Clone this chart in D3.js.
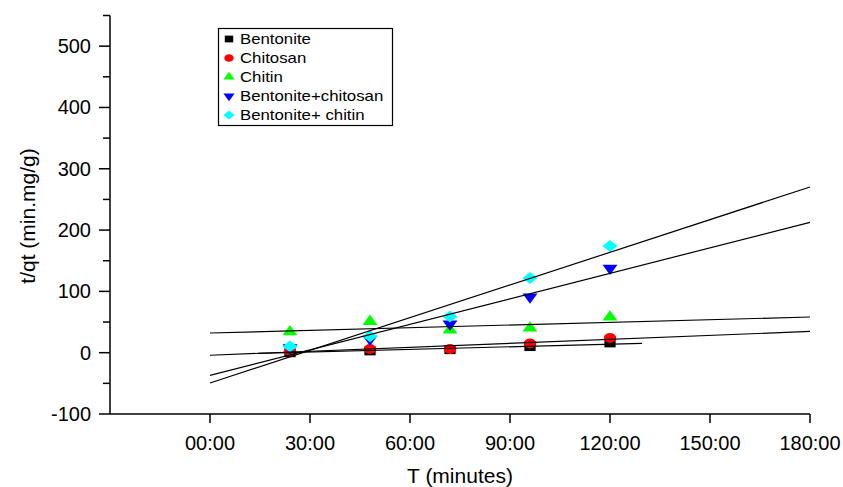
<!DOCTYPE html>
<html lang="en">
  <head>
    <meta charset="utf-8">
    <title>t/qt vs T</title>
    <style type="text/css">
      body { margin: 0; background: #ffffff; }
      .tick-label { font-family: "Liberation Sans", Arial, sans-serif; font-size: 20px; fill: #000; }
      .axis-title { font-family: "Liberation Sans", Arial, sans-serif; font-size: 21px; fill: #000; }
      .legend-text { font-family: "Liberation Sans", Arial, sans-serif; font-size: 14px; fill: #000; }
    </style>
    <script src="https://d3js.org/d3.v7.min.js"></script>
  </head>
  <body>
    <div id="my_dataviz"></div>

    <script>
    // time of each measurement (minutes)
    var times = [24, 48, 72, 96, 120];

    // series names
    var seriesNames = ["Bentonite", "Chitosan", "Chitin", "Bentonite+chitosan", "Bentonite+ chitin"];

    // t/qt values
    var bentonite = [0, 3, 5, 10, 16];
    var chitosan = [2, 6, 6, 15, 24];
    var chitin = [34, 51, 37, 40, 58];
    var bentChitosan = [8, 22, 47, 91, 138];
    var bentChitin = [10, 27, 59, 122, 174];

    // linear fit lines: start/end time and value at both ends
    var fitT0 = [14.4, 0, 0, 0, 0];
    var fitT1 = [129.6, 180, 180, 180, 180];
    var fitV0 = [-1, -4.2, 32.1, -37, -49.4];
    var fitV1 = [15.3, 34.7, 58.2, 212.6, 270.3];

    // axis ticks
    var xTicks = [0, 30, 60, 90, 120, 150, 180];
    var xTickLabels = ["00:00", "30:00", "60:00", "90:00", "120:00", "150:00", "180:00"];
    var yTicks = [-100, 0, 100, 200, 300, 400, 500];
    var yMinorTicks = [-50, 50, 150, 250, 350, 450, 550];

    var seriesValues = [bentonite, chitosan, chitin, bentChitosan, bentChitin];
    var colors = ["#000000", "#ff0000", "#00ff00", "#0000ff", "#00ffff"];

    var width = 843, height = 487;

    var svg = d3.select("#my_dataviz")
      .append("svg")
        .attr("width", width)
        .attr("height", height);

    // scales
    var x = d3.scaleLinear().domain([-30, 180]).range([110, 810]);
    var y = d3.scaleLinear().domain([-100, 550]).range([414, 15.5]);

    // marker shapes (scaled a bit wider than tall, like the original)
    function markerPath(i, k) {
      if (i == 0) return d3.symbol().type(d3.symbolSquare).size(81 * k * k)();
      if (i == 1) return d3.symbol().type(d3.symbolCircle).size(78.5 * k * k)();
      if (i == 2 || i == 3) return d3.symbol().type(d3.symbolTriangle).size(62 * k * k)();
      return d3.symbol().type(d3.symbolSquare).size(72 * k * k)();
    }
    function markerRotate(i) {
      if (i == 3) return " rotate(180)";
      if (i == 4) return " rotate(45)";
      return "";
    }

    // points
    seriesValues.forEach(function(vals, i) {
      svg.append("g")
        .selectAll("path")
        .data(vals)
        .enter()
        .append("path")
          .attr("d", markerPath(i, 1))
          .attr("transform", function(d, j) {
            return "translate(" + x(times[j]) + "," + y(d) + ") scale(1.25,1)" + markerRotate(i);
          })
          .attr("fill", colors[i]);
    });

    // fit lines
    svg.append("g")
      .selectAll("line")
      .data(seriesNames)
      .enter()
      .append("line")
        .attr("x1", function(d, i) { return x(fitT0[i]); })
        .attr("y1", function(d, i) { return y(fitV0[i]); })
        .attr("x2", function(d, i) { return x(fitT1[i]); })
        .attr("y2", function(d, i) { return y(fitV1[i]); })
        .attr("stroke", "#000")
        .attr("stroke-width", 1.2);

    // y axis
    var yAxis = svg.append("g");
    yAxis.append("line")
      .attr("x1", x(-30)).attr("x2", x(-30))
      .attr("y1", y(550)).attr("y2", y(-100))
      .attr("stroke", "#000").attr("stroke-width", 1.5);
    yAxis.selectAll(".major")
      .data(yTicks).enter().append("line")
        .attr("x1", x(-30) - 11).attr("x2", x(-30))
        .attr("y1", function(d) { return y(d); })
        .attr("y2", function(d) { return y(d); })
        .attr("stroke", "#000").attr("stroke-width", 1.5);
    yAxis.selectAll(".minor")
      .data(yMinorTicks).enter().append("line")
        .attr("x1", x(-30) - 7).attr("x2", x(-30))
        .attr("y1", function(d) { return y(d); })
        .attr("y2", function(d) { return y(d); })
        .attr("stroke", "#000").attr("stroke-width", 1.5);
    yAxis.selectAll("text")
      .data(yTicks).enter().append("text")
        .attr("class", "tick-label")
        .attr("x", x(-30) - 19)
        .attr("y", function(d) { return y(d) + 7; })
        .attr("text-anchor", "end")
        .text(function(d) { return d; });

    // x axis
    var xAxis = svg.append("g");
    xAxis.append("line")
      .attr("x1", x(-30)).attr("x2", x(180))
      .attr("y1", y(-100)).attr("y2", y(-100))
      .attr("stroke", "#000").attr("stroke-width", 1.5);
    xAxis.selectAll(".tk")
      .data(xTicks).enter().append("line")
        .attr("x1", function(d) { return x(d); })
        .attr("x2", function(d) { return x(d); })
        .attr("y1", y(-100)).attr("y2", y(-100) + 9)
        .attr("stroke", "#000").attr("stroke-width", 1.5);
    xAxis.selectAll("text")
      .data(xTicks).enter().append("text")
        .attr("class", "tick-label")
        .attr("x", function(d) { return x(d); })
        .attr("y", 450)
        .attr("text-anchor", "middle")
        .text(function(d, i) { return xTickLabels[i]; });

    // axis titles
    svg.append("text")
      .attr("class", "axis-title")
      .attr("x", 460)
      .attr("y", 483)
      .attr("text-anchor", "middle")
      .text("T (minutes)");

    svg.append("text")
      .attr("class", "axis-title")
      .attr("transform", "translate(35,216) rotate(-90)")
      .attr("text-anchor", "middle")
      .text("t/qt (min.mg/g)");

    // legend
    var legend = svg.append("g");
    legend.append("rect")
      .attr("x", 218.5).attr("y", 28.5)
      .attr("width", 174).attr("height", 97)
      .attr("fill", "#fff")
      .attr("stroke", "#000").attr("stroke-width", 1.2);

    seriesNames.forEach(function(name, i) {
      var ly = 39 + i * 19;
      legend.append("path")
        .attr("d", markerPath(i, 0.75))
        .attr("transform", "translate(229," + ly + ") scale(1.25,1)" + markerRotate(i))
        .attr("fill", colors[i]);
      legend.append("text")
        .attr("class", "legend-text")
        .attr("transform", "translate(240," + (ly + 5) + ") scale(1.2,1)")
        .text(name);
    });
    </script>
  </body>
</html>
